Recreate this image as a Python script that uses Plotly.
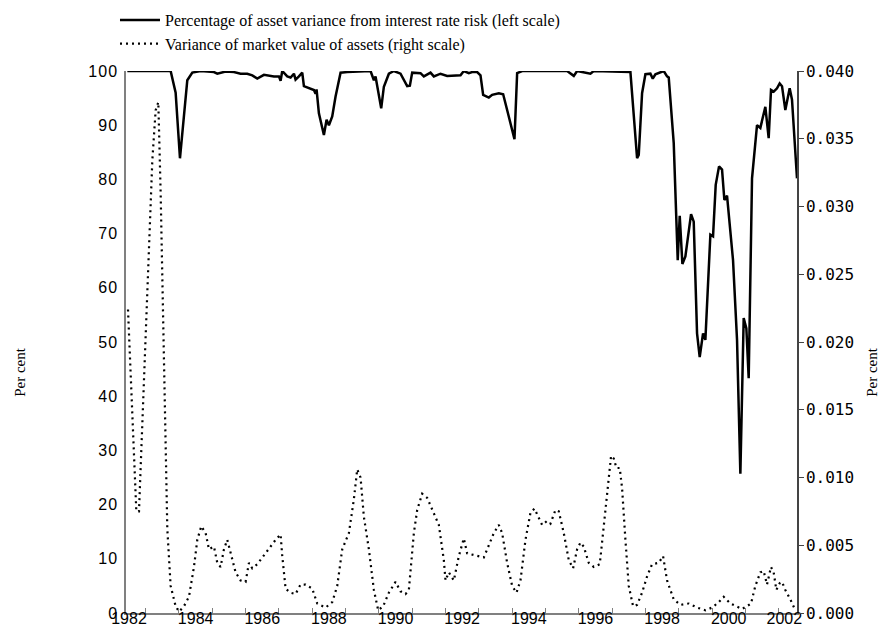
import plotly.graph_objects as go

# ---- data ----
share_years = [1982.45, 1983.75, 1983.90, 1984.03, 1984.25, 1984.40, 1984.65, 1985.05, 1985.15, 1985.40,
               1985.65, 1985.85, 1986.05, 1986.20, 1986.35, 1986.55, 1986.85, 1987.00, 1987.05, 1987.10,
               1987.25, 1987.35, 1987.45, 1987.50, 1987.60, 1987.70, 1987.75, 1987.85, 1988.05, 1988.10,
               1988.13, 1988.20, 1988.30, 1988.35, 1988.43, 1988.50, 1988.60, 1988.70, 1988.85, 1989.05,
               1989.75, 1989.80, 1989.85, 1989.90, 1990.07, 1990.15, 1990.30, 1990.45, 1990.65, 1990.85,
               1990.93, 1991.00, 1991.25, 1991.35, 1991.45, 1991.55, 1991.65, 1991.85, 1992.05, 1992.35,
               1992.45, 1992.55, 1992.70, 1992.80, 1992.95, 1993.05, 1993.13, 1993.30, 1993.40, 1993.60,
               1993.73, 1993.85, 1994.07, 1994.15, 1994.30, 1995.65, 1995.75, 1995.85, 1995.95, 1996.15,
               1996.35, 1996.45, 1997.55, 1997.75, 1997.80, 1997.90, 1998.00, 1998.15, 1998.22, 1998.30,
               1998.55, 1998.65, 1998.70, 1998.85, 1998.97, 1999.03, 1999.11, 1999.20, 1999.37, 1999.45,
               1999.55, 1999.63, 1999.73, 1999.80, 1999.95, 2000.03, 2000.11, 2000.21, 2000.30, 2000.37,
               2000.45, 2000.63, 2000.75, 2000.85, 2000.95, 2001.03, 2001.10, 2001.20, 2001.30, 2001.35,
               2001.45, 2001.53, 2001.60, 2001.70, 2001.77, 2001.85, 2001.95, 2002.03, 2002.10, 2002.20,
               2002.33, 2002.40, 2002.55]
share_pct = [100, 100, 96, 83.9, 98.3, 99.7, 100, 99.8, 99.5, 99.9,
             99.8, 99.5, 99.5, 99.2, 98.6, 99.3, 99.0, 99.0, 98.2, 100,
             99.0, 98.8, 99.5, 98.4, 99.0, 99.7, 97.2, 97.0, 96.5, 95.8,
             96.6, 92.2, 89.1, 88.2, 91.0, 90.0, 91.6, 95.3, 99.7, 99.8,
             100, 99.2, 98.3, 99.0, 93.1, 97.1, 99.5, 100, 99.5, 97.2,
             97.3, 99.7, 99.6, 99.0, 99.3, 99.7, 99.0, 99.5, 99.1, 99.1,
             99.2, 100, 99.6, 99.8, 99.8, 99.2, 95.6, 95.1, 95.6, 95.9,
             95.7, 92.8, 87.4, 99.6, 100, 100, 99.6, 99.1, 100, 99.8,
             99.5, 100, 99.8, 83.9, 84.5, 95.9, 99.4, 99.5, 98.6, 99.4,
             100, 99.0, 98.8, 86.7, 65.1, 73.3, 64.4, 65.8, 73.6, 72.2,
             51.6, 47.2, 51.6, 50.4, 69.8, 69.5, 79.0, 82.4, 81.8, 76.2,
             77.0, 65.1, 50.4, 25.7, 54.4, 52.5, 43.3, 80.2, 87.3, 90.0,
             89.5, 91.9, 93.4, 87.6, 96.5, 96.2, 96.8, 97.7, 97.2, 92.8,
             96.8, 94.7, 80.2]

var_years = [1982.47, 1982.72, 1982.80, 1983.05, 1983.20, 1983.30, 1983.38, 1983.45, 1983.55, 1983.65,
             1983.75, 1983.90, 1984.00, 1984.15, 1984.30, 1984.45, 1984.55, 1984.67, 1984.80, 1984.90,
             1985.05, 1985.15, 1985.25, 1985.35, 1985.45, 1985.55, 1985.70, 1985.85, 1986.00, 1986.10,
             1986.20, 1986.35, 1986.65, 1986.90, 1987.05, 1987.10, 1987.20, 1987.35, 1987.50, 1987.65,
             1987.80, 1988.00, 1988.15, 1988.40, 1988.60, 1988.75, 1988.90, 1989.10, 1989.25, 1989.35,
             1989.45, 1989.55, 1989.70, 1989.85, 1989.98, 1990.13, 1990.30, 1990.50, 1990.65, 1990.80,
             1990.90, 1991.05, 1991.15, 1991.30, 1991.45, 1991.65, 1991.80, 1991.95, 1992.00, 1992.10,
             1992.25, 1992.40, 1992.55, 1992.65, 1992.85, 1993.15, 1993.45, 1993.60, 1993.70, 1993.85,
             1994.00, 1994.13, 1994.25, 1994.40, 1994.55, 1994.67, 1994.90, 1995.05, 1995.15, 1995.30,
             1995.40, 1995.55, 1995.70, 1995.83, 1995.95, 1996.05, 1996.15, 1996.30, 1996.45, 1996.63,
             1996.75, 1996.90, 1996.97, 1997.05, 1997.13, 1997.23, 1997.30, 1997.40, 1997.50, 1997.63,
             1997.75, 1997.90, 1998.05, 1998.20, 1998.40, 1998.53, 1998.65, 1998.85, 1999.05, 1999.30,
             1999.55, 1999.80, 2000.00, 2000.20, 2000.35, 2000.55, 2000.75, 2000.90, 2001.05, 2001.17,
             2001.30, 2001.45, 2001.55, 2001.65, 2001.77, 2001.85, 2001.93, 2002.03, 2002.10, 2002.20,
             2002.35, 2002.50]
var_assets = [0.0224, 0.0075, 0.0075, 0.0236, 0.0334, 0.0371, 0.0377, 0.0310, 0.0187, 0.0062,
              0.0020, 0.0005, 0.0001, 0.0005, 0.0012, 0.0034, 0.0054, 0.0064, 0.0059, 0.0047,
              0.0049, 0.0037, 0.0034, 0.0047, 0.0054, 0.0044, 0.0030, 0.0024, 0.0023, 0.0037,
              0.0033, 0.0036, 0.0046, 0.0054, 0.0058, 0.0042, 0.0018, 0.0015, 0.0014, 0.0021,
              0.0021, 0.0018, 0.0007, 0.0004, 0.0008, 0.0020, 0.0047, 0.0059, 0.0084, 0.0106,
              0.0100, 0.0071, 0.0047, 0.0017, 0.0002, 0.0005, 0.0015, 0.0023, 0.0016, 0.0014,
              0.0017, 0.0059, 0.0076, 0.0088, 0.0085, 0.0074, 0.0065, 0.0039, 0.0024, 0.0030,
              0.0024, 0.0042, 0.0055, 0.0044, 0.0043, 0.0041, 0.0059, 0.0065, 0.0059, 0.0037,
              0.0020, 0.0015, 0.0024, 0.0054, 0.0074, 0.0077, 0.0065, 0.0068, 0.0066, 0.0076,
              0.0075, 0.0059, 0.0039, 0.0033, 0.0047, 0.0052, 0.0049, 0.0037, 0.0034, 0.0036,
              0.0064, 0.0101, 0.0116, 0.0114, 0.0107, 0.0107, 0.0092, 0.0054, 0.0020, 0.0005,
              0.0006, 0.0015, 0.0027, 0.0036, 0.0037, 0.0042, 0.0024, 0.0010, 0.0006, 0.0007,
              0.0004, 0.0002, 0.0004, 0.0008, 0.0012, 0.0007, 0.0005, 0.0003, 0.0005, 0.0007,
              0.0020, 0.0030, 0.0031, 0.0021, 0.0034, 0.0030, 0.0017, 0.0022, 0.0023, 0.0017,
              0.0010, 0.0002]

label_years = list(range(1982, 2003, 2))
left_ticks = [0, 10, 20, 30, 40, 50, 60, 70, 80, 90, 100]
right_ticks = [0.000, 0.005, 0.010, 0.015, 0.020, 0.025, 0.030, 0.035, 0.040]

X_MIN, X_MAX = 1982.41, 2002.55

# ---- figure ----
fig = go.Figure()
fig.add_trace(go.Scatter(
    x=share_years, y=share_pct, mode="lines",
    name="Percentage of asset variance from interest rate risk (left scale)",
    line=dict(color="black", width=2.5), yaxis="y"))
fig.add_trace(go.Scatter(
    x=var_years, y=var_assets, mode="lines",
    name="Variance of market value of assets (right scale)",
    line=dict(color="black", width=2.2, dash="2px,4px"), yaxis="y2"))

label_pos = [min(y + 0.5, X_MAX - 0.38) for y in label_years]

# The page body has an 8px margin; the figure is sized so that it fits in the
# window without scrollbars and lands on the same pixels as the reference.
fig.update_layout(
    width=872, height=625,
    margin=dict(l=118, r=83, t=63, b=20, autoexpand=False),
    paper_bgcolor="white", plot_bgcolor="white",
    showlegend=True,
    legend=dict(x=-0.0164, y=1.1255, xanchor="left", yanchor="top",
                font=dict(family="Liberation Serif", size=16, color="black"),
                bgcolor="rgba(0,0,0,0)", tracegroupgap=0, itemwidth=40),
    xaxis=dict(range=[X_MIN, X_MAX], showgrid=False, zeroline=False,
               showline=True, linecolor="#808080", linewidth=1.5,
               tickmode="array", tickvals=label_pos, ticktext=[str(y) for y in label_years],
               ticks="", ticklabelstandoff=-10,
               tickfont=dict(family="Liberation Sans", size=16, color="black"),
               minor=dict(tickmode="array", tickvals=list(range(1983, 2003)),
                          ticks="inside", ticklen=5, tickcolor="#808080", tickwidth=1.2,
                          showgrid=False)),
    yaxis=dict(range=[0, 100], showgrid=False, zeroline=False,
               showline=True, linecolor="#808080", linewidth=1.5,
               tickmode="array", tickvals=left_ticks,
               ticktext=['<span style="letter-spacing:1px">%d</span>' % v for v in left_ticks],
               ticks="", ticklabelstandoff=3,
               tickfont=dict(family="Liberation Sans", size=16, color="black")),
    yaxis2=dict(range=[0, 0.04], overlaying="y", side="right", showgrid=False, zeroline=False,
                showline=True, linecolor="#444444", linewidth=1.5,
                tickmode="array", tickvals=right_ticks,
                ticktext=["%.3f" % v for v in right_ticks],
                ticks="outside", ticklen=5, tickcolor="#444444", tickwidth=1.2,
                ticklabelstandoff=-1,
                tickfont=dict(family="DejaVu Sans Mono", size=16, color="black")),
    annotations=[
        dict(text="Per cent", xref="paper", yref="paper", x=-0.158, y=0.445,
             xanchor="center", yanchor="middle", textangle=-90, showarrow=False,
             font=dict(family="Liberation Serif", size=15, color="black")),
        dict(text="Per cent", xref="paper", yref="paper", x=1.1118, y=0.445,
             xanchor="center", yanchor="middle", textangle=-90, showarrow=False,
             font=dict(family="Liberation Serif", size=15, color="black")),
    ],
)

fig.write_html("out.html")
